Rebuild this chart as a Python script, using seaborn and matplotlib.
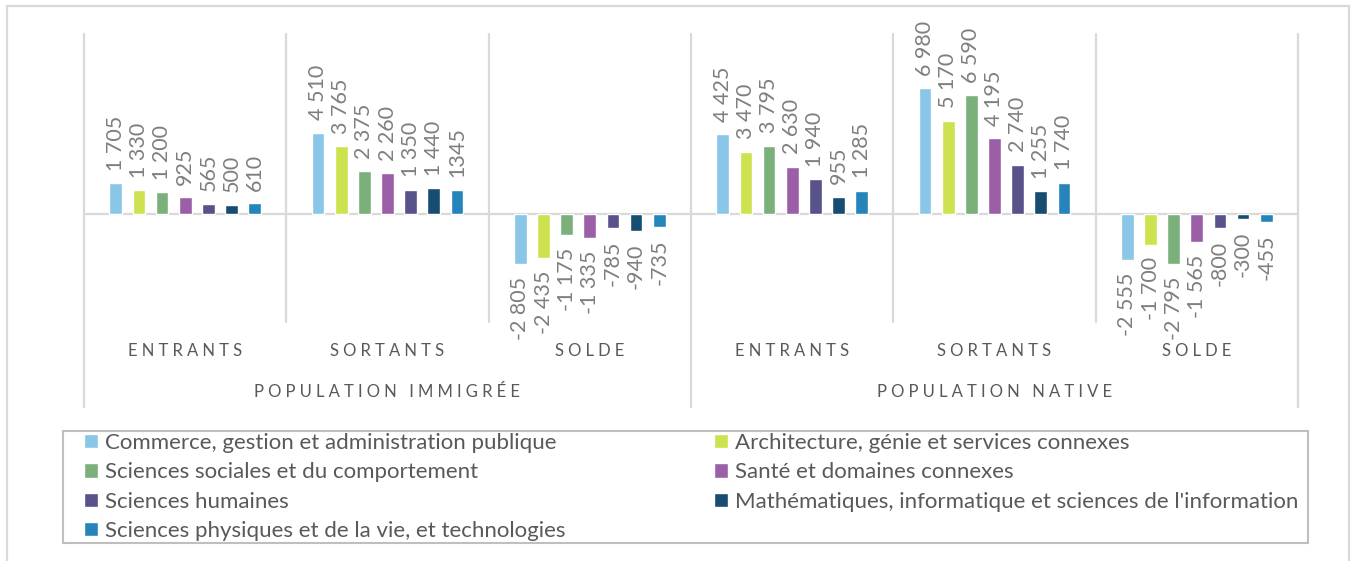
import pandas as pd
import seaborn as sns
import matplotlib.pyplot as plt
from matplotlib.patches import Patch, Rectangle

# ------------------------
# Data
# ------------------------
fields = [
    "Commerce, gestion et administration publique",
    "Architecture, génie et services connexes",
    "Sciences sociales et du comportement",
    "Santé et domaines connexes",
    "Sciences humaines",
    "Mathématiques, informatique et sciences de l'information",
    "Sciences physiques et de la vie, et technologies",
]
flows = ["ENTRANTS", "SORTANTS", "SOLDE"]
populations = ["POPULATION IMMIGRÉE", "POPULATION NATIVE"]

imm_entrants = [1705, 1330, 1200, 925, 565, 500, 610]
imm_sortants = [4510, 3765, 2375, 2260, 1350, 1440, 1345]
imm_solde = [-2805, -2435, -1175, -1335, -785, -940, -735]
nat_entrants = [4425, 3470, 3795, 2630, 1940, 955, 1285]
nat_sortants = [6980, 5170, 6590, 4195, 2740, 1255, 1740]
nat_solde = [-2555, -1700, -2795, -1565, -800, -300, -455]

colors = ["#8AC6E8", "#CDE24E", "#7BB07B", "#9A5FA7",
          "#57528A", "#174D70", "#2585BB"]

# ------------------------
# Long format
# ------------------------
series = [imm_entrants, imm_sortants, imm_solde,
          nat_entrants, nat_sortants, nat_solde]
groups = [p + " | " + f for p in populations for f in flows]
rows = []
for g, vals in zip(groups, series):
    for f, v in zip(fields, vals):
        rows.append({"groupe": g, "domaine": f, "valeur": v})
df = pd.DataFrame(rows)


def fmt(v):
    return f"{v:,}".replace(",", " ")


# ------------------------
# Figure
# ------------------------
sns.set_style("white")
plt.rcParams["font.family"] = ["Lato", "DejaVu Sans"]

W, H = 1353, 561
fig = plt.figure(figsize=(W / 100, H / 100), dpi=100)
top_px, bot_px, left_px, right_px = 34, 322, 84, 1298
ax = fig.add_axes([left_px / W, 1 - bot_px / H,
                   (right_px - left_px) / W, (bot_px - top_px) / H])

sns.barplot(data=df, x="groupe", y="valeur", hue="domaine",
            order=groups, hue_order=fields, palette=colors,
            width=0.8, gap=0.45, legend=False, ax=ax, errorbar=None,
            saturation=1)

ax.set_xlim(-0.5, 5.5)
ax.set_ylim(-6000, 10000)
for s in ax.spines.values():
    s.set_visible(False)
ax.set_xticks([])
ax.set_yticks([])
ax.set_xlabel("")
ax.set_ylabel("")

grid_c = "#D9D9D9"
ax.axhline(0, color=grid_c, lw=1.6, zorder=0)
trans = ax.get_xaxis_transform()
for i in range(7):
    x = i - 0.5
    y0 = -(407 - bot_px) / (bot_px - top_px) if i in (0, 3, 6) else 0
    ax.plot([x, x], [y0, 1], color=grid_c, lw=1.6, transform=trans,
            clip_on=False, zorder=0)

# data labels
for k, cont in enumerate(ax.containers):
    for j, bar in enumerate(cont):
        v = series[j][k]
        txt = fmt(v)
        if j == 1 and k == 6:
            txt = "1345"
        x = bar.get_x() + bar.get_width() / 2
        ax.annotate(txt, (x, v), xytext=(0, 9 if v >= 0 else -9),
                    textcoords="offset points", rotation=90,
                    ha="center", va="bottom" if v >= 0 else "top",
                    fontsize=15.5, color="#7F7F7F", annotation_clip=False)


def spaced(s):
    # letter spacing like the spaced caps of the category axis
    return "\u2005".join(s)


y1 = -(351 - bot_px) / (bot_px - top_px)
y2 = -(392 - bot_px) / (bot_px - top_px)
for i, g in enumerate(groups):
    ax.text(i, y1, spaced(flows[i % 3]), transform=trans, ha="center",
            va="center", fontsize=12, color="#595959")
for p, pop in enumerate(populations):
    ax.text(3 * p + 1, y2, spaced(pop), transform=trans, ha="center",
            va="center", fontsize=12, color="#595959")

# outer chart border
fig.add_artist(Rectangle((7 / W, -0.05), (1349 - 7) / W, (561 - 6) / H + 0.05,
                         transform=fig.transFigure, fill=False,
                         ec=grid_c, lw=1.6))

# legend box
fig.add_artist(Rectangle((63 / W, 1 - 543 / H), (1308 - 63) / W, (543 - 431) / H,
                         transform=fig.transFigure, fill=False,
                         ec="#BFBFBF", lw=1.5))

handles = [Patch(facecolor=c) for c in colors]
order = [0, 2, 4, 6, 1, 3, 5]
leg = fig.legend([handles[i] for i in order], [fields[i] for i in order],
                 ncol=2, loc="upper left", mode="expand",
                 bbox_to_anchor=(84 / W, 0, (1298 - 84) / W, 1 - 433 / H),
                 borderaxespad=0, fontsize=16, frameon=False,
                 handlelength=0.65, handleheight=0.6, handletextpad=0.3,
                 labelspacing=0.42, borderpad=0, labelcolor="#595959")

plt.savefig("out.png", dpi=100)
